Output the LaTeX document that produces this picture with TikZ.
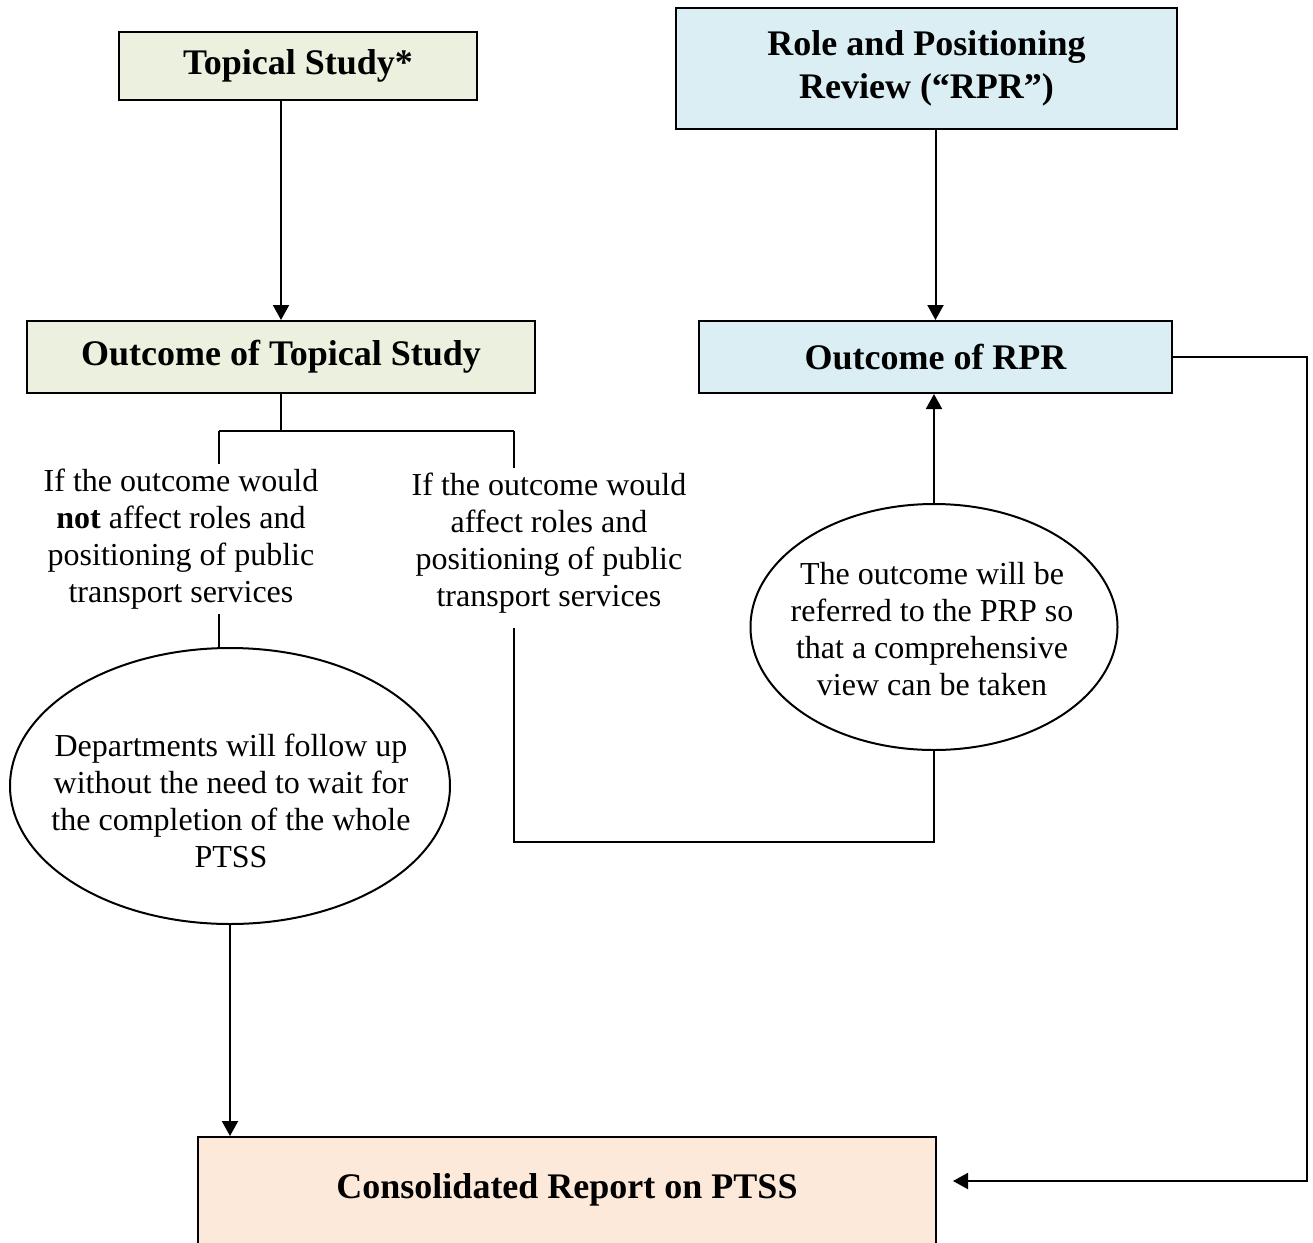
\documentclass[tikz,border=0pt]{standalone}
\usepackage{fontspec}
\setmainfont{Liberation Serif}
\usetikzlibrary{shapes.geometric,arrows.meta}
\definecolor{boxgreen}{HTML}{EBF1DE}
\definecolor{boxblue}{HTML}{DAEEF3}
\definecolor{boxpeach}{HTML}{FDE9D9}
\newcommand{\headfont}{\fontsize{18}{21.5}\selectfont\bfseries}
\newcommand{\bodyfont}{\fontsize{16}{18.5}\selectfont}
\begin{document}
\begin{tikzpicture}[x=0.5pt,y=-0.5pt,line width=1pt,
  headbox/.style={draw,inner sep=0pt,align=center,font=\headfont},
  bodytext/.style={align=center,inner sep=2pt,font=\bodyfont},
  oval/.style={draw,ellipse,inner sep=0pt},
  arr/.style={-{Triangle[length=7.5pt,width=8pt]}}]
\useasboundingbox (0,0) rectangle (1313,1243);
\clip (0,0) rectangle (1313,1243);

% top boxes
\node[headbox,fill=boxgreen,minimum width=179pt,minimum height=34pt] (ts) at (298,66) {Topical Study*};
\node[headbox,fill=boxblue,minimum width=250.5pt,minimum height=60.5pt] (rpr) at (926.5,68.5) {Role and Positioning\\Review (``RPR'')};

% outcome boxes
\node[headbox,fill=boxgreen,minimum width=254pt,minimum height=36pt] (ots) at (281,357) {Outcome of Topical Study};
\node[headbox,fill=boxblue,minimum width=236.5pt,minimum height=36pt] (orpr) at (935.5,357) {Outcome of RPR};

\draw[arr] (ots.north |- ts.south) -- (ots.north);
\draw[arr] (orpr.north |- rpr.south) -- (orpr.north);

% branches
\coordinate (forkL) at (219,431);
\coordinate (forkR) at (514,431);
\node[bodytext] (txtL) at (181,539) {If the outcome would\\\textbf{not} affect roles and\\positioning of public\\transport services};
\node[bodytext] (txtR) at (549,543) {If the outcome would\\affect roles and\\positioning of public\\transport services};

\draw (ots.south) -- (ots.south |- forkL);
\draw (forkL) -- (forkR);
\draw (forkL) -- (forkL |- txtL.north);
\draw (forkR) -- (forkR |- txtR.north);

% ovals
\node[oval,minimum width=220pt,minimum height=138pt] (ellL) at (230,786) {};
\node[bodytext] at (231,801) {Departments will follow up\\without the need to wait for\\the completion of the whole\\PTSS};
\node[oval,minimum width=183.5pt,minimum height=123pt] (ellR) at (934,627) {};
\node[bodytext] at (932,629) {The outcome will be\\referred to the PRP so\\that a comprehensive\\view can be taken};

\draw (txtL.south -| forkL) -- (ellL.north -| forkL);
\coordinate (bendR) at (514,842);
\draw ([yshift=-5pt]txtR.south -| bendR) -- (bendR) -| (ellR.south);
\draw[arr] (ellR.north) -- (ellR.north |- orpr.south);

% consolidated report
\node[headbox,fill=boxpeach,anchor=base,minimum width=369pt,text height=30.5pt,text depth=31pt] (crp) at (567,1198) {Consolidated Report on PTSS};
\draw[arr] (ellL.south) -- (ellL.south |- crp.north);

\coordinate (corner) at (1307,1181);
\coordinate (cin) at (953,1181);
\draw[arr] (orpr.east) -| (corner) -- (cin);
\end{tikzpicture}
\end{document}
